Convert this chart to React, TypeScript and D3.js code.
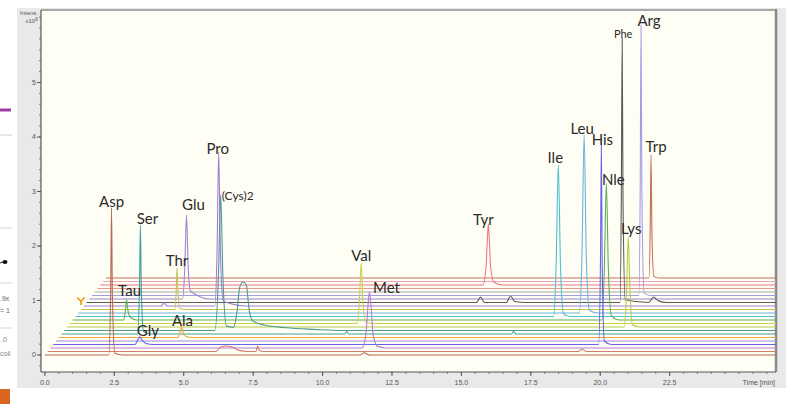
import React from 'react';
import * as d3 from 'd3';

const W = 786;
const H = 404;

// ---- Data: one chromatogram per trace, [time (min), intensity (x10^6)], bottom trace first ----
const trace00 = [[0,0],[2.30,0],[2.37,1.2],[2.40,2.70],[2.43,1.1],[2.52,0.03],[2.8,0],[11.35,0],[11.5,0.04],[11.7,0],[26.5,0]];
const trace01 = [[0,0],[6.05,0],[6.2,0.07],[6.4,0.1],[6.65,0.08],[6.9,0.02],[7.2,0],[7.5,0],[7.56,0.1],[7.62,0.02],[7.8,0],[19.1,0],[19.25,0.04],[19.4,0],[26.5,0]];
const trace02 = [[0,0],[11.22,0],[11.36,0.25],[11.44,0.8],[11.49,1.03],[11.54,0.8],[11.62,0.25],[11.78,0.03],[12.1,0],[26.5,0]];
const trace03 = [[0,0],[2.95,0],[3.05,0.09],[3.12,0.14],[3.2,0.08],[3.35,0.02],[3.6,0],[19.64,0],[19.71,1.6],[19.74,3.66],[19.77,1.5],[19.85,0.06],[20.1,0],[26.5,0]];
const trace04 = [[0,0],[26.5,0]];
const trace05 = [[0,0],[4.28,0],[4.37,0.1],[4.42,0.2],[4.47,0.1],[4.58,0.02],[4.8,0],[26.5,0]];
const trace06 = [[0,0],[2.74,0],[2.81,0.95],[2.84,2.0],[2.87,0.9],[2.95,0.05],[3.2,0],[10.2,0],[10.27,0.05],[10.34,0],[16.2,0],[16.28,0.05],[16.36,0],[26.5,0]];
const trace07 = [[0,0],[5.42,0],[5.55,1.0],[5.63,2.49],[5.71,1.0],[5.84,0.08],[6.1,0.06],[6.22,0.35],[6.32,0.8],[6.44,0.89],[6.56,0.82],[6.65,0.4],[6.78,0.18],[7.2,0.1],[8.0,0.05],[9.0,0.02],[10,0],[26.5,0]];
const trace08 = [[0,0],[20.07,0],[20.15,0.7],[20.21,1.65],[20.27,0.7],[20.36,0.04],[20.6,0],[26.5,0]];
const trace09 = [[0,0],[10.35,0],[10.43,0.45],[10.49,1.10],[10.55,0.45],[10.64,0.03],[10.9,0],[26.5,0]];
const trace10 = [[0,0],[1.84,0],[1.9,0.18],[1.94,0.37],[1.99,0.18],[2.08,0.05],[2.3,0],[19.06,0],[19.15,1.0],[19.22,2.51],[19.29,1.0],[19.4,0.08],[19.7,0],[26.5,0]];
const trace11 = [[0,0],[17.22,0],[17.31,0.9],[17.39,2.78],[17.47,0.9],[17.58,0.05],[17.8,0],[26.5,0]];
const trace12 = [[0,0],[18.05,0],[18.14,1.0],[18.22,3.27],[18.30,1.0],[18.41,0.05],[18.7,0],[26.5,0]];
const trace13 = [[0,0],[3.38,0],[3.43,0.35],[3.46,0.77],[3.49,0.35],[3.56,0.02],[3.8,0],[26.5,0]];
const trace14 = [[0,0],[2.8,0],[2.9,0.06],[3.0,0],[4.72,0],[4.8,1.0],[4.86,2.83],[4.92,1.0],[5.02,0.1],[5.3,0.04],[5.8,0],[26.5,0]];
const trace15 = [[0,0],[14.05,0],[14.19,0.1],[14.33,0],[15.12,0],[15.27,0.12],[15.42,0.02],[15.8,0],[19.21,0],[19.26,2.0],[19.29,4.85],[19.32,1.9],[19.4,0.05],[20.25,0],[20.42,0.1],[20.6,0.03],[20.9,0],[26.5,0]];
const trace16 = [[0,0],[3.36,0],[3.44,0.6],[3.50,1.54],[3.56,0.6],[3.64,0.15],[3.85,0.08],[4.3,0],[26.5,0]];
const trace17 = [[0,0],[19.69,0],[19.74,2.0],[19.77,4.96],[19.80,1.9],[19.88,0.05],[20.1,0],[26.5,0]];
const trace18 = [[0,0],[26.5,0]];
const trace19 = [[0,0],[26.5,0]];
const trace20 = [[0,0],[13.78,0],[13.89,0.35],[13.94,0.9],[13.97,1.12],[14.0,0.9],[14.05,0.35],[14.17,0.05],[14.5,0],[26.5,0]];
const trace21 = [[0,0],[26.5,0]];
const trace22 = [[0,0],[19.55,0],[19.6,0.9],[19.63,2.26],[19.66,0.9],[19.73,0.03],[19.9,0],[26.5,0]];

const traceSignals = [trace00, trace01, trace02, trace03, trace04, trace05, trace06, trace07, trace08, trace09, trace10, trace11,
  trace12, trace13, trace14, trace15, trace16, trace17, trace18, trace19, trace20, trace21, trace22];

// peak annotations: name, trace index, retention time, apex intensity
const peakNames = ['Asp', 'Tau', 'Gly', 'Ser', 'Thr', 'Ala', 'Glu', 'Pro', '(Cys)2', 'Val', 'Met', 'Tyr', 'Ile', 'Leu', 'His', 'Nle', 'Phe', 'Lys', 'Arg', 'Trp'];
const peakTrace = [0, 10, 3, 6, 13, 5, 16, 14, 7, 9, 2, 20, 11, 12, 3, 10, 15, 8, 17, 22];
const peakTime = [2.40, 1.94, 3.12, 2.84, 3.46, 4.42, 3.50, 4.86, 5.63, 10.49, 11.49, 13.97, 17.39, 18.22, 19.74, 19.22, 19.29, 20.21, 19.77, 19.63];
const peakHeight = [2.70, 0.37, 0.14, 2.0, 0.77, 0.2, 1.54, 2.83, 2.49, 1.10, 1.03, 1.12, 2.78, 3.27, 3.66, 2.51, 4.85, 1.65, 4.96, 2.26];

const yTickValues = [0, 1, 2, 3, 4, 5];
const xTickValues = [0, 2.5, 5, 7.5, 10, 12.5, 15, 17.5, 20, 22.5];

// ---- styles / layout ----
const traceColors = ['#b86a4e', '#d77a70', '#b77dd6', '#6464e6', '#9090f0', '#f0a63a', '#3e9f9f', '#4a9898', '#b8cc4c', '#c8d24a',
  '#5eae58', '#4cc0d4', '#68b4e4', '#c9c25c', '#a47cd6', '#5a5a5a', '#9d84d8', '#a59ce8', '#a8a8a8', '#e89a90', '#ec7884', '#eea6bf', '#c8705a'];
const labelNudge: Record<string, [number, number, number]> = {
  'Asp': [0, -7, 15], 'Tau': [3, -10, 15], 'Gly': [8, -7, 15], 'Ser': [7, -7, 15], 'Thr': [0, -8, 15], 'Ala': [1, -7, 15],
  'Glu': [7, -11, 15], 'Pro': [-1, -4, 15], '(Cys)2': [17, 1, 12], 'Val': [0, -9, 15], 'Met': [17, -5, 15], 'Tyr': [-5, -5, 15],
  'Ile': [-3, -8, 15], 'Leu': [-2, -7, 15], 'His': [1, -6, 15], 'Nle': [7, -4, 15], 'Phe': [1, -5, 11], 'Lys': [3, -9, 15],
  'Arg': [8, -5, 15], 'Trp': [5, -9, 15],
};
const OFFSET_T = 0.1;
const OFFSET_V = 0.0642;

const PL = 41, PR = 776, PT = 10, PB = 372;

export default function App() {
  const x = d3.scaleLinear().domain([-0.14, 26.33]).range([PL, PR]);
  const y = d3.scaleLinear().domain([-0.312, 6.33]).range([PB, PT]);

  const makeLine = (i: number) =>
    d3.line<number[]>()
      .x(d => x(d[0] + i * OFFSET_T))
      .y(d => y(d[1] + i * OFFSET_V))
      .curve(d3.curveMonotoneX);

  const yMinor = d3.range(-0.2, 6.25, 0.2);
  const xMinor = d3.range(0, 26.3, 0.5);
  const order = d3.range(traceSignals.length).reverse();
  const axisFont = '"Liberation Sans", Arial, sans-serif';
  const labelFont = 'Lato, "Open Sans", sans-serif';

  return (
    <svg width={W} height={H} style={{ position: 'absolute', left: 0, top: 0, background: '#fff' }}>
      <defs>
        <clipPath id="plotClip">
          <rect x={PL} y={PT} width={PR - PL} height={PB - PT} />
        </clipPath>
      </defs>
      {/* fragments of neighbouring window */}
      <line x1={0} x2={11} y1={110} y2={110} stroke="#a03aa6" strokeWidth={3} />
      <line x1={0} x2={12} y1={135} y2={135} stroke="#cfcfcf" strokeWidth={1} />
      <line x1={0} x2={12} y1={228} y2={228} stroke="#d8d8d8" strokeWidth={1} />
      <line x1={0} x2={12} y1={283} y2={283} stroke="#d8d8d8" strokeWidth={1} />
      <line x1={0} x2={12} y1={328} y2={328} stroke="#d8d8d8" strokeWidth={1} />
      <line x1={0} x2={6} y1={263} y2={261} stroke="#222" strokeWidth={1} />
      <ellipse cx={5} cy={262} rx={2.5} ry={2} fill="#111" />
      <text x={0} y={301} fontSize={7} fill="#666" fontFamily={axisFont}>.9x</text>
      <text x={0} y={313} fontSize={7} fill="#666" fontFamily={axisFont}>= 1</text>
      <text x={1} y={342} fontSize={7} fill="#888" fontFamily={axisFont}>.0</text>
      <text x={0} y={356} fontSize={7} fill="#888" fontFamily={axisFont}>coli</text>
      <rect x={0} y={389} width={10} height={15} fill="#d9651e" />

      {/* panel */}
      <rect x={17} y={8} width={W - 17} height={380} fill="#e9e9e9" />
      <rect x={PL} y={PT} width={PR - PL} height={PB - PT} fill="#fffef4" />
      <line x1={PL} x2={PR} y1={PT} y2={PT} stroke="#a8a8a8" strokeWidth={2} />
      <line x1={PR} x2={PR} y1={PT - 1} y2={PB} stroke="#8a8a8a" strokeWidth={2.5} />
      <line x1={PL} x2={PL} y1={PT} y2={PB} stroke="#555" strokeWidth={1.2} />
      <line x1={PL} x2={PR} y1={PB} y2={PB} stroke="#555" strokeWidth={1.2} />

      {/* y axis */}
      {yMinor.map((v, k) => (
        <line key={'ym' + k} x1={PL - 2} x2={PL} y1={y(v)} y2={y(v)} stroke="#666" strokeWidth={0.8} />
      ))}
      {yTickValues.map(v => (
        <g key={'yt' + v}>
          <line x1={PL - 4} x2={PL} y1={y(v)} y2={y(v)} stroke="#555" strokeWidth={1} />
          <text x={PL - 5} y={y(v)} dy="0.35em" textAnchor="end" fontSize={7} fill="#555" fontFamily={axisFont}>{v}</text>
        </g>
      ))}
      <text x={38} y={15} textAnchor="end" fontSize={6} fill="#555" fontFamily={axisFont}>Intens.</text>
      <text x={38} y={23} textAnchor="end" fontSize={6} fill="#555" fontFamily={axisFont}>x10<tspan dy={-2} fontSize={5}>6</tspan></text>

      {/* x axis */}
      {xMinor.map((v, k) => (
        <line key={'xm' + k} x1={x(v)} x2={x(v)} y1={PB} y2={PB + 2} stroke="#666" strokeWidth={0.8} />
      ))}
      {xTickValues.map(v => (
        <g key={'xt' + v}>
          <line x1={x(v)} x2={x(v)} y1={PB} y2={PB + 4} stroke="#555" strokeWidth={1} />
          <text x={x(v)} y={383} dy="0.35em" textAnchor="middle" fontSize={7} fill="#555" fontFamily={axisFont}>{d3.format('.1f')(v)}</text>
        </g>
      ))}
      <text x={775} y={383} dy="0.35em" textAnchor="end" fontSize={7} fill="#555" fontFamily={axisFont}>Time [min]</text>

      {/* traces */}
      <g clipPath="url(#plotClip)">
        {order.map(i => (
          <path key={'tr' + i} d={makeLine(i)(traceSignals[i] as number[][]) || ''} fill="none"
            stroke={traceColors[i]} strokeWidth={1.1} />
        ))}
      </g>

      {/* trace marker */}
      <path d="M77.5,297.5 L81,301.5 L84.5,297.5 M81,301.5 L81,305" fill="none" stroke="#f0a020" strokeWidth={1.8} />

      {/* peak labels */}
      {peakNames.map((name, k) => {
        const i = peakTrace[k];
        const px = x(peakTime[k] + i * OFFSET_T);
        const py = y(peakHeight[k] + i * OFFSET_V);
        const [dx, dy, fs] = labelNudge[name];
        return (
          <text key={'lb' + name} x={px + dx} y={py + dy} textAnchor="middle" dominantBaseline="central"
            fontSize={fs} fill="#2b2b2b" fontFamily={labelFont}>{name}</text>
        );
      })}
    </svg>
  );
}
